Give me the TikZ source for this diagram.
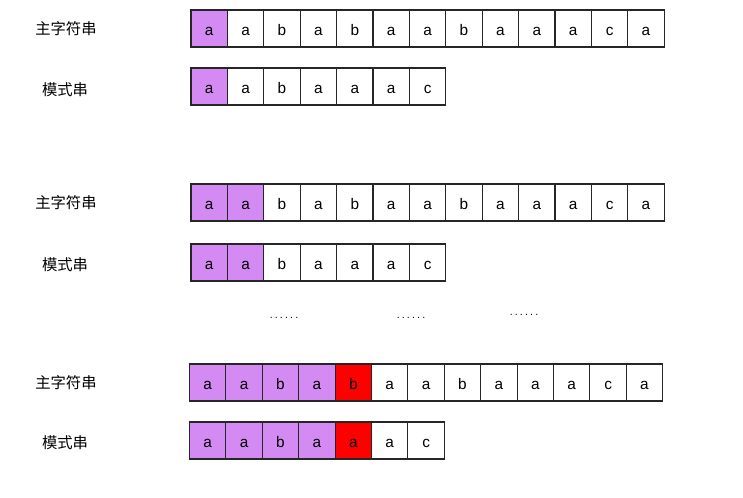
\documentclass[tikz,border=0pt]{standalone}
\usepackage{fontspec}
\setmainfont{Liberation Sans}
\newfontfamily\cjk{Noto Sans CJK SC}
\definecolor{matchc}{HTML}{D38AF2}
\definecolor{failc}{HTML}{FF0000}
\newcommand{\sixdots}{.\kern1.6pt.\kern1.6pt.\kern1.6pt.\kern1.6pt.\kern1.6pt.}
\begin{document}
\begin{tikzpicture}[x=0.75pt,y=-0.75pt,
  cell/.style={draw=black!85,line width=0.8pt,minimum width=36.4*0.75pt,minimum height=37*0.75pt,inner sep=0pt,outer sep=0pt,anchor=north west,text height=10.6pt,text depth=0pt,font=\fontsize{11.5pt}{13pt}\selectfont},
  hit/.style={fill=matchc},
  miss/.style={fill=failc},
  lbl/.style={font=\cjk\fontsize{11.5pt}{13pt}\selectfont,inner sep=0pt},
  dots/.style={font=\fontsize{8pt}{10pt}\selectfont,inner sep=0pt}]
\useasboundingbox (0,0) rectangle (743,498);
\def\mainstr{a,a,b,a,b,a,a,b,a,a,a,c,a}
\def\patstr{a,a,b,a,a,a,c}
% section 1
\node[lbl] (l1) at (66,29) {主字符串};
\node[lbl] (p1) at (65,90) {模式串};
\foreach \ch [count=\i from 0] in \mainstr {
  \ifnum\i<1 \def\st{hit}\else\def\st{}\fi
  \node[cell,\st] (sa\i) at (191+36.4*\i,10) {\ch};
}
\foreach \ch [count=\i from 0] in \patstr {
  \ifnum\i<1 \def\st{hit}\else\def\st{}\fi
  \node[cell,\st] (ta\i) at (191+36.4*\i,68) {\ch};
}
% section 2
\node[lbl] (l2) at (66,203) {主字符串};
\node[lbl] (p2) at (65,265) {模式串};
\foreach \ch [count=\i from 0] in \mainstr {
  \ifnum\i<2 \def\st{hit}\else\def\st{}\fi
  \node[cell,\st] (sb\i) at (191+36.4*\i,184) {\ch};
}
\foreach \ch [count=\i from 0] in \patstr {
  \ifnum\i<2 \def\st{hit}\else\def\st{}\fi
  \node[cell,\st] (tb\i) at (191+36.4*\i,244) {\ch};
}
% dots
\node[dots] (d1) at (284,318) {\sixdots};
\node[dots] (d2) at (411,318) {\sixdots};
\node[dots] (d3) at (524,315) {\sixdots};
% section 3
\node[lbl] (l3) at (66,383) {主字符串};
\node[lbl] (p3) at (65,443) {模式串};
\foreach \ch [count=\i from 0] in \mainstr {
  \ifnum\i<4 \def\st{hit}\else\ifnum\i=4 \def\st{miss}\else\def\st{}\fi\fi
  \node[cell,\st] (sc\i) at (189.5+36.4*\i,364) {\ch};
}
\foreach \ch [count=\i from 0] in \patstr {
  \ifnum\i<4 \def\st{hit}\else\ifnum\i=4 \def\st{miss}\else\def\st{}\fi\fi
  \node[cell,\st] (tc\i) at (189.5+36.4*\i,422) {\ch};
}
\end{tikzpicture}
\end{document}
